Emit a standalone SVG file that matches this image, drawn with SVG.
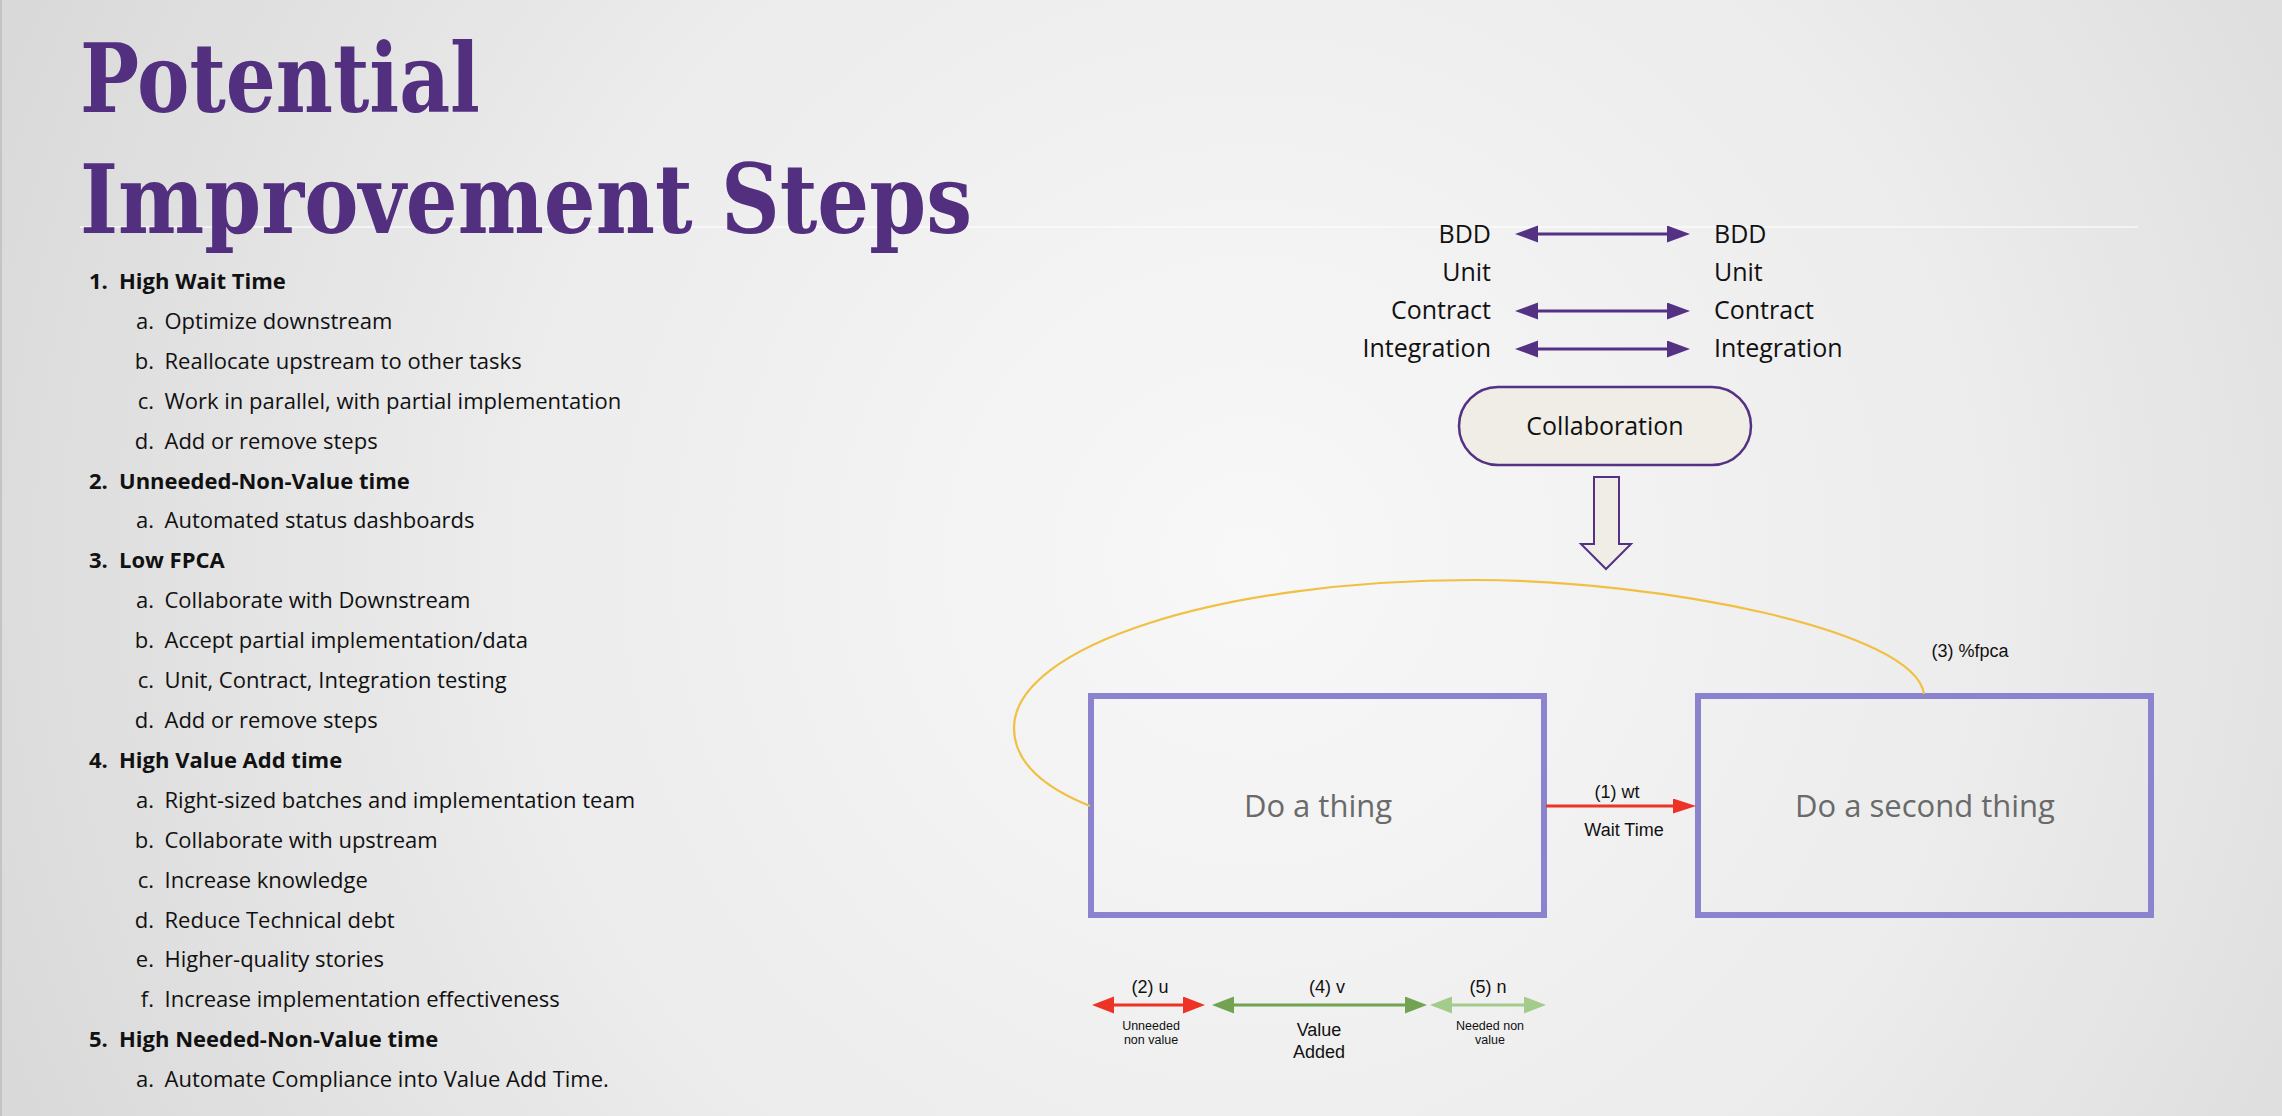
<svg xmlns="http://www.w3.org/2000/svg" width="2282" height="1116" viewBox="0 0 2282 1116">
  <defs>
    <radialGradient id="bg" gradientUnits="userSpaceOnUse" cx="1250" cy="560" r="1350">
      <stop offset="0" stop-color="#f8f8f8"/>
      <stop offset="0.55" stop-color="#ececec"/>
      <stop offset="1" stop-color="#d9d9d9"/>
    </radialGradient>
    <marker id="mPurple" markerUnits="userSpaceOnUse" markerWidth="24" markerHeight="18" refX="3" refY="8.5" orient="auto-start-reverse">
      <path d="M0,0 L23,8.5 L0,17 Z" fill="#553184"/>
    </marker>
    <marker id="mRed" markerUnits="userSpaceOnUse" markerWidth="24" markerHeight="16" refX="3" refY="7.5" orient="auto-start-reverse">
      <path d="M0,0 L23,7.5 L0,15 Z" fill="#ec3326"/>
    </marker>
    <marker id="mRedL" markerUnits="userSpaceOnUse" markerWidth="23" markerHeight="18" refX="3" refY="8.5" orient="auto-start-reverse">
      <path d="M0,0 L22,8.5 L0,17 Z" fill="#ec3326"/>
    </marker>
    <marker id="mGreen" markerUnits="userSpaceOnUse" markerWidth="23" markerHeight="18" refX="3" refY="8.5" orient="auto-start-reverse">
      <path d="M0,0 L22,8.5 L0,17 Z" fill="#71a351"/>
    </marker>
    <marker id="mLight" markerUnits="userSpaceOnUse" markerWidth="23" markerHeight="18" refX="3" refY="8.5" orient="auto-start-reverse">
      <path d="M0,0 L22,8.5 L0,17 Z" fill="#a3cc8c"/>
    </marker>
  </defs>
  <style>
    .title { font-family: "DejaVu Serif", "Liberation Serif", serif; font-size: 95px; font-weight: bold; fill: #532f80; }
    .lst { font-family: "Open Sans", "Noto Sans", sans-serif; font-size: 22px; fill: #111111; }
    .lstb { font-family: "Open Sans", "Noto Sans", sans-serif; font-size: 22px; font-weight: bold; fill: #111111; }
    .tst { font-family: "Open Sans", "Noto Sans", sans-serif; font-size: 25px; fill: #111111; }
    .box { fill: none; stroke: #8a83cd; stroke-width: 6; }
    .boxtxt { font-family: "Open Sans", "Noto Sans", sans-serif; font-size: 31px; fill: #6a6a6a; text-anchor: middle; }
    .lbl { font-family: "Liberation Sans", Arial, sans-serif; font-size: 18px; fill: #111111; text-anchor: middle; }
    .sm { font-family: "Liberation Sans", Arial, sans-serif; font-size: 12.5px; fill: #111111; text-anchor: middle; }
    .pur { stroke: #553184; stroke-width: 3; fill: none; }
  </style>

  <rect x="0" y="0" width="2282" height="1116" fill="url(#bg)"/>
  <rect x="0" y="0" width="2" height="1116" fill="#c4c4c4"/>
  <line x1="80" y1="227" x2="2138" y2="227" stroke="#ffffff" stroke-opacity="0.55" stroke-width="2"/>

  <g id="title">
    <text class="title" x="80" y="112" textLength="400" lengthAdjust="spacingAndGlyphs">Potential</text>
    <text class="title" x="80" y="233" textLength="892" lengthAdjust="spacingAndGlyphs">Improvement Steps</text>
  </g>

  <g id="list">
    <text class="lstb" x="89" y="289">1.</text><text class="lstb" x="119" y="289">High Wait Time</text>
    <text class="lst" x="154" y="329" text-anchor="end">a.</text><text class="lst" x="164.5" y="329">Optimize downstream</text>
    <text class="lst" x="154" y="369" text-anchor="end">b.</text><text class="lst" x="164.5" y="369">Reallocate upstream to other tasks</text>
    <text class="lst" x="154" y="409" text-anchor="end">c.</text><text class="lst" x="164.5" y="409">Work in parallel, with partial implementation</text>
    <text class="lst" x="154" y="449" text-anchor="end">d.</text><text class="lst" x="164.5" y="449">Add or remove steps</text>
    <text class="lstb" x="89" y="489">2.</text><text class="lstb" x="119" y="489">Unneeded-Non-Value time</text>
    <text class="lst" x="154" y="528" text-anchor="end">a.</text><text class="lst" x="164.5" y="528">Automated status dashboards</text>
    <text class="lstb" x="89" y="568">3.</text><text class="lstb" x="119" y="568">Low FPCA</text>
    <text class="lst" x="154" y="608" text-anchor="end">a.</text><text class="lst" x="164.5" y="608">Collaborate with Downstream</text>
    <text class="lst" x="154" y="648" text-anchor="end">b.</text><text class="lst" x="164.5" y="648">Accept partial implementation/data</text>
    <text class="lst" x="154" y="688" text-anchor="end">c.</text><text class="lst" x="164.5" y="688">Unit, Contract, Integration testing</text>
    <text class="lst" x="154" y="728" text-anchor="end">d.</text><text class="lst" x="164.5" y="728">Add or remove steps</text>
    <text class="lstb" x="89" y="768">4.</text><text class="lstb" x="119" y="768">High Value Add time</text>
    <text class="lst" x="154" y="808" text-anchor="end">a.</text><text class="lst" x="164.5" y="808">Right-sized batches and implementation team</text>
    <text class="lst" x="154" y="848" text-anchor="end">b.</text><text class="lst" x="164.5" y="848">Collaborate with upstream</text>
    <text class="lst" x="154" y="888" text-anchor="end">c.</text><text class="lst" x="164.5" y="888">Increase knowledge</text>
    <text class="lst" x="154" y="928" text-anchor="end">d.</text><text class="lst" x="164.5" y="928">Reduce Technical debt</text>
    <text class="lst" x="154" y="967" text-anchor="end">e.</text><text class="lst" x="164.5" y="967">Higher-quality stories</text>
    <text class="lst" x="154" y="1007" text-anchor="end">f.</text><text class="lst" x="164.5" y="1007">Increase implementation effectiveness</text>
    <text class="lstb" x="89" y="1047">5.</text><text class="lstb" x="119" y="1047">High Needed-Non-Value time</text>
    <text class="lst" x="154" y="1087" text-anchor="end">a.</text><text class="lst" x="164.5" y="1087">Automate Compliance into Value Add Time.</text>
  </g>

  <g id="tests-left">
    <text class="tst" x="1491" y="243" text-anchor="end">BDD</text>
    <text class="tst" x="1491" y="281" text-anchor="end">Unit</text>
    <text class="tst" x="1491" y="319" text-anchor="end">Contract</text>
    <text class="tst" x="1491" y="357" text-anchor="end">Integration</text>
  </g>
  <g id="tests-right">
    <text class="tst" x="1714" y="243">BDD</text>
    <text class="tst" x="1714" y="281">Unit</text>
    <text class="tst" x="1714" y="319">Contract</text>
    <text class="tst" x="1714" y="357">Integration</text>
  </g>

  <g id="collaboration">
    <rect x="1459" y="387" width="292" height="78" rx="39" ry="39" fill="#efede6" stroke="#553184" stroke-width="2.5"/>
    <text class="tst" x="1605" y="435" text-anchor="middle">Collaboration</text>
  </g>

  <g id="down-arrow">
    <path d="M1594,477 L1619,477 L1619,544 L1631,544 L1606,569 L1581,544 L1594,544 Z" fill="#efede6" stroke="#553184" stroke-width="2" stroke-linejoin="miter"/>
  </g>

  <g id="box1">
    <rect class="box" x="1091" y="696" width="453" height="219"/>
    <text class="boxtxt" x="1318" y="817">Do a thing</text>
  </g>
  <g id="box2">
    <rect class="box" x="1698" y="696" width="453" height="219"/>
    <text class="boxtxt" x="1925" y="817">Do a second thing</text>
  </g>

  <g id="connectors">
    <line class="pur" x1="1535" y1="234" x2="1670" y2="234" marker-start="url(#mPurple)" marker-end="url(#mPurple)"/>
    <line class="pur" x1="1535" y1="311" x2="1670" y2="311" marker-start="url(#mPurple)" marker-end="url(#mPurple)"/>
    <line class="pur" x1="1535" y1="349" x2="1670" y2="349" marker-start="url(#mPurple)" marker-end="url(#mPurple)"/>

    <line x1="1546" y1="806" x2="1676" y2="806" stroke="#ec3326" stroke-width="3" marker-end="url(#mRed)"/>
    <path d="M1090,806 C1050,790 1014,765 1014,728 C1014,646 1220,580 1474,580 C1660,580 1915,630 1924,694" fill="none" stroke="#f1c043" stroke-width="2.2"/>

    <line x1="1111" y1="1005" x2="1186" y2="1005" stroke="#ec3326" stroke-width="3" marker-start="url(#mRedL)" marker-end="url(#mRedL)"/>
    <line x1="1231" y1="1005" x2="1408" y2="1005" stroke="#71a351" stroke-width="3" marker-start="url(#mGreen)" marker-end="url(#mGreen)"/>
    <line x1="1449" y1="1005" x2="1527" y2="1005" stroke="#a3cc8c" stroke-width="3" marker-start="url(#mLight)" marker-end="url(#mLight)"/>
  </g>

  <g id="labels">
    <text class="lbl" x="1617" y="798">(1) wt</text>
    <text class="lbl" x="1624" y="836">Wait Time</text>
    <text class="lbl" x="1970" y="657">(3) %fpca</text>
    <text class="lbl" x="1150" y="993">(2) u</text>
    <text class="lbl" x="1327" y="993">(4) v</text>
    <text class="lbl" x="1488" y="993">(5) n</text>
    <text class="sm" x="1151" y="1030">Unneeded</text>
    <text class="sm" x="1151" y="1044">non value</text>
    <text class="lbl" x="1319" y="1036">Value</text>
    <text class="lbl" x="1319" y="1058">Added</text>
    <text class="sm" x="1490" y="1030">Needed non</text>
    <text class="sm" x="1490" y="1044">value</text>
  </g>
</svg>
